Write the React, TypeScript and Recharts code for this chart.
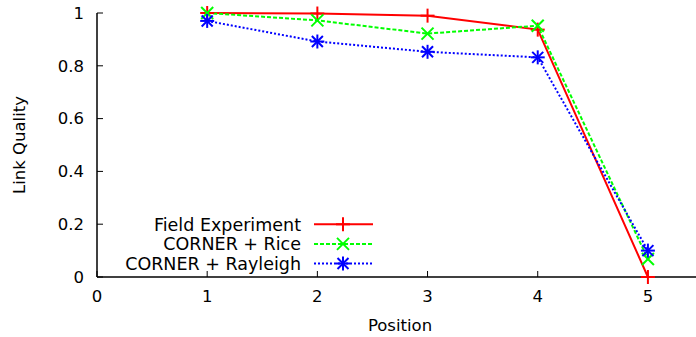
import React from "react";
import { LineChart, Line, XAxis, YAxis } from "recharts";

const positions = [1, 2, 3, 4, 5];
const fieldExperiment = [1.0, 0.998, 0.99, 0.937, 0.0];
const cornerRice = [1.0, 0.972, 0.922, 0.952, 0.068];
const cornerRayleigh = [0.97, 0.892, 0.853, 0.832, 0.1];
const xTicks = [0, 1, 2, 3, 4, 5];
const yTicks = [0, 0.2, 0.4, 0.6, 0.8, 1];
const seriesNames = ["Field Experiment", "CORNER + Rice", "CORNER + Rayleigh"];

const data = positions.map((p, i) => ({
  pos: p,
  field: fieldExperiment[i],
  rice: cornerRice[i],
  rayleigh: cornerRayleigh[i],
}));

const FONT = "'DejaVu Sans', Arial, sans-serif";
const RED = "#ff0000";
const GREEN = "#00ff00";
const BLUE = "#0000ff";

const Plus = ({ cx, cy, color }: any) => (
  <g stroke={color} strokeWidth={2}>
    <line x1={cx - 7} y1={cy} x2={cx + 7} y2={cy} />
    <line x1={cx} y1={cy - 7} x2={cx} y2={cy + 7} />
  </g>
);
const Cross = ({ cx, cy, color }: any) => (
  <g stroke={color} strokeWidth={2}>
    <line x1={cx - 6} y1={cy - 6} x2={cx + 6} y2={cy + 6} />
    <line x1={cx - 6} y1={cy + 6} x2={cx + 6} y2={cy - 6} />
  </g>
);
const Star = ({ cx, cy, color }: any) => (
  <g stroke={color} strokeWidth={2}>
    <line x1={cx - 7} y1={cy} x2={cx + 7} y2={cy} />
    <line x1={cx} y1={cy - 7} x2={cx} y2={cy + 7} />
    <line x1={cx - 5.5} y1={cy - 5.5} x2={cx + 5.5} y2={cy + 5.5} />
    <line x1={cx - 5.5} y1={cy + 5.5} x2={cx + 5.5} y2={cy - 5.5} />
  </g>
);

const mk = (Shape: any, color: string) => (props: any) => {
  const { cx, cy, index } = props;
  if (cx == null || cy == null) return <g key={index} />;
  return <Shape key={index} cx={cx} cy={cy} color={color} />;
};

const legendItems = [
  { name: seriesNames[0], color: RED, dash: undefined, Shape: Plus },
  { name: seriesNames[1], color: GREEN, dash: "4 2", Shape: Cross },
  { name: seriesNames[2], color: BLUE, dash: "2 2", Shape: Star },
];

const YLabel = (props: any) => {
  const vb = props.viewBox || { x: 0, y: 13, width: 97, height: 264 };
  const cx = vb.x + 25;
  const cy = vb.y + vb.height / 2;
  return (
    <text
      x={cx}
      y={cy}
      transform={`rotate(-90 ${cx} ${cy})`}
      textAnchor="middle"
      fontSize={16.5}
      fontFamily={FONT}
      fill="#000"
    >
      Link Quality
    </text>
  );
};

export default function App() {
  return (
    <div
      style={{
        position: "absolute",
        left: 0,
        top: 0,
        width: 696,
        height: 337,
        overflow: "hidden",
        background: "#fff",
        fontFamily: FONT,
      }}
    >
      <LineChart
        width={720}
        height={337}
        data={data}
        margin={{ top: 13, right: 17, bottom: 0, left: 0 }}
      >
        <XAxis
          dataKey="pos"
          type="number"
          domain={[0, 5.5]}
          ticks={xTicks}
          allowDataOverflow
          height={60}
          tickSize={-6}
          tickMargin={19.5}
          stroke="#000"
          tick={{ fill: "#000", fontSize: 16.5, fontFamily: FONT }}
          tickLine={{ stroke: "#000" }}
          axisLine={{ stroke: "#000", strokeWidth: 1.5 }}
          label={{
            value: "Position",
            position: "insideBottom",
            offset: 6,
            fill: "#000",
            fontSize: 16.5,
            fontFamily: FONT,
          }}
        />
        <XAxis
          xAxisId="top"
          dataKey="pos"
          type="number"
          orientation="top"
          domain={[0, 5.5]}
          ticks={xTicks}
          allowDataOverflow
          height={0}
          tickSize={-6}
          tickFormatter={() => ""}
          stroke="#000"
          tickLine={{ stroke: "#000" }}
          axisLine={{ stroke: "#000", strokeWidth: 1.5 }}
        />
        <YAxis
          type="number"
          domain={[0, 1]}
          ticks={yTicks}
          width={97}
          tickSize={-6}
          tickMargin={19}
          stroke="#000"
          tick={{ fill: "#000", fontSize: 16.5, fontFamily: FONT }}
          tickLine={{ stroke: "#000" }}
          axisLine={{ stroke: "#000", strokeWidth: 1.5 }}
          label={<YLabel />}
        />
        <Line
          dataKey="field"
          stroke={RED}
          strokeWidth={2}
          isAnimationActive={false}
          dot={mk(Plus, RED)}
          activeDot={false}
        />
        <Line
          dataKey="rice"
          stroke={GREEN}
          strokeWidth={2}
          strokeDasharray="4 2"
          isAnimationActive={false}
          dot={mk(Cross, GREEN)}
          activeDot={false}
        />
        <Line
          dataKey="rayleigh"
          stroke={BLUE}
          strokeWidth={2}
          strokeDasharray="2 2"
          isAnimationActive={false}
          dot={mk(Star, BLUE)}
          activeDot={false}
        />
      </LineChart>
      <svg
        width={270}
        height={72}
        style={{ position: "absolute", left: 110, top: 210 }}
      >
        {legendItems.map((it, i) => {
          const y = 14.3 + i * 19.6;
          const Shape = it.Shape;
          return (
            <g key={it.name}>
              <text
                x={191}
                y={y + 6.3}
                textAnchor="end"
                fontSize={17.5}
                fontFamily={FONT}
                fill="#000"
              >
                {it.name}
              </text>
              <line
                x1={204}
                y1={y}
                x2={263}
                y2={y}
                stroke={it.color}
                strokeWidth={2}
                strokeDasharray={it.dash}
              />
              <Shape cx={233} cy={y} color={it.color} />
            </g>
          );
        })}
      </svg>
    </div>
  );
}
